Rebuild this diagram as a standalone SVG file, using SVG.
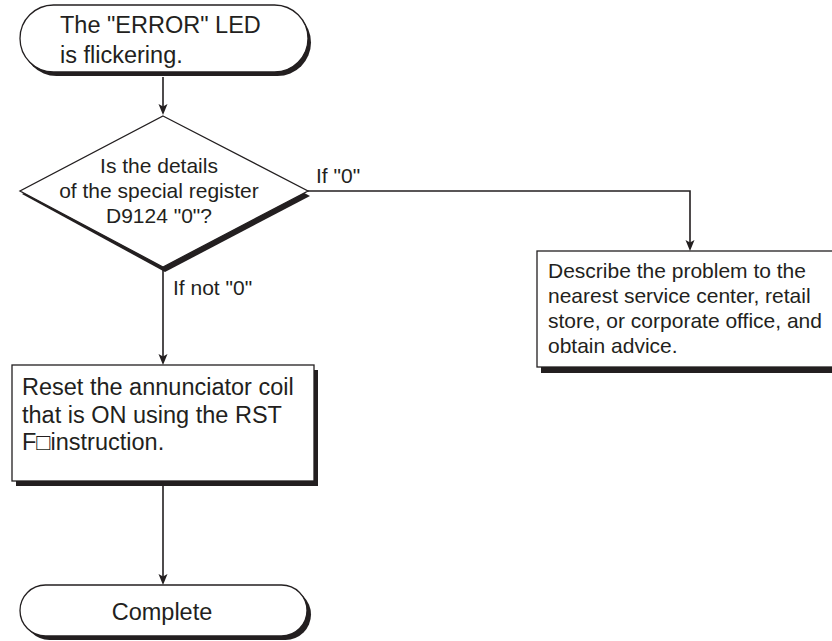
<svg xmlns="http://www.w3.org/2000/svg" width="832" height="641" viewBox="0 0 832 641">
<style>
.shape{fill:#fff;stroke:#231f20;stroke-width:1.3}
.shadow{fill:#231f20}
.conn{fill:none;stroke:#231f20;stroke-width:1.6}
.head{fill:#231f20}
text{font-family:"Liberation Sans",Arial,sans-serif;fill:#231f20}
.big{font-size:23.5px}
.mid{font-size:21px}
.c{text-anchor:middle}
</style>
<defs>
<path id="ah" d="M0,0 L-4.5,-11 L0,-8.5 L4.5,-11 Z"/>
</defs>
<g id="connectors">
<path class="conn" d="M163,77 L163,108"/>
<use href="#ah" class="head" x="163" y="115"/>
<path class="conn" d="M308,191 L690,191 L690,244"/>
<use href="#ah" class="head" x="690" y="251"/>
<path class="conn" d="M163,268 L163,358"/>
<use href="#ah" class="head" x="163" y="365"/>
<path class="conn" d="M163,486 L163,578"/>
<use href="#ah" class="head" x="163" y="585"/>
</g>
<g id="start">
<rect class="shadow" x="23" y="9" width="288" height="67" rx="33.5"/>
<rect class="shape" x="20" y="5" width="288" height="67" rx="33.5"/>
<text class="big" x="60" y="33">The "ERROR" LED</text>
<text class="big" x="60" y="63">is flickering.</text>
</g>
<g id="decision">
<polygon class="shadow" points="165,120 310,196 165,272 22,194"/>
<polygon class="shape" points="163,116 308,191 163,267 20,191"/>
<text class="mid c" x="159" y="173">Is the details</text>
<text class="mid c" x="159" y="198">of the special register</text>
<text class="mid c" x="159" y="223">D9124 "0"?</text>
</g>
<g id="labels">
<text class="mid" x="316" y="183">If "0"</text>
<text class="mid" x="173" y="295">If not "0"</text>
</g>
<g id="advice">
<rect class="shadow" x="541" y="256" width="300" height="117"/>
<rect class="shape" x="537" y="251" width="300" height="116"/>
<text class="mid" x="548" y="278">Describe the problem to the</text>
<text class="mid" x="548" y="303">nearest service center, retail</text>
<text class="mid" x="548" y="328">store, or corporate office, and</text>
<text class="mid" x="548" y="353">obtain advice.</text>
</g>
<g id="reset">
<rect class="shadow" x="16" y="370" width="302" height="116"/>
<rect class="shape" x="12" y="365" width="302" height="116"/>
<text class="big" x="22" y="395">Reset the annunciator coil</text>
<text class="big" x="22" y="422.5">that is ON using the RST</text>
<text class="big" x="22" y="450">F□instruction.</text>
</g>
<g id="complete">
<rect class="shadow" x="24" y="589" width="287" height="51" rx="25.5"/>
<rect class="shape" x="20" y="585" width="287" height="51" rx="25.5"/>
<text class="big c" x="162" y="620">Complete</text>
</g>
</svg>
